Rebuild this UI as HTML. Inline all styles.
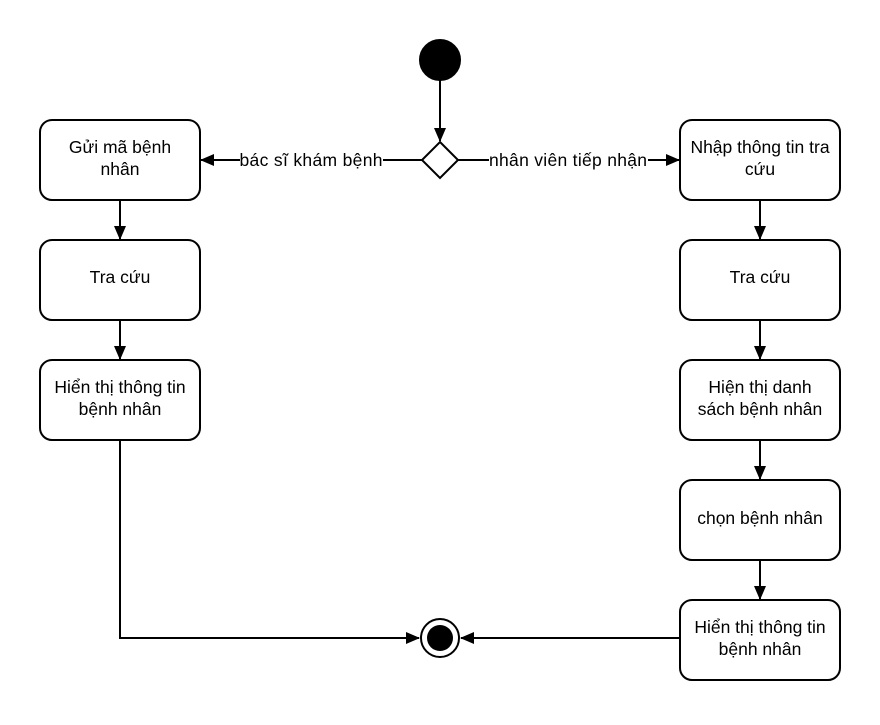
<!DOCTYPE html>
<html><head><style>body{margin:0;background:#fff}</style></head><body>
<svg width="880" height="720" xmlns="http://www.w3.org/2000/svg" font-family="Liberation Sans, sans-serif" font-size="17.5">
<defs><marker id="a" markerWidth="14" markerHeight="12" refX="13" refY="6" orient="auto" markerUnits="userSpaceOnUse"><path d="M0,0 L14,6 L0,12 Z" fill="#000"/></marker></defs>
<g stroke="#000" stroke-width="2" fill="none">
<circle cx="440" cy="60" r="20" fill="#000"/>
<line x1="440" y1="80" x2="440" y2="141" marker-end="url(#a)"/>
<path d="M440,142 L458,160 L440,178 L422,160 Z" fill="#fff"/>
<line x1="422" y1="160" x2="201" y2="160" marker-end="url(#a)"/>
<line x1="458" y1="160" x2="679" y2="160" marker-end="url(#a)"/>
<rect x="40" y="120" width="160" height="80" rx="12" fill="#fff"/>
<rect x="40" y="240" width="160" height="80" rx="12" fill="#fff"/>
<rect x="40" y="360" width="160" height="80" rx="12" fill="#fff"/>
<rect x="680" y="120" width="160" height="80" rx="12" fill="#fff"/>
<rect x="680" y="240" width="160" height="80" rx="12" fill="#fff"/>
<rect x="680" y="360" width="160" height="80" rx="12" fill="#fff"/>
<rect x="680" y="480" width="160" height="80" rx="12" fill="#fff"/>
<rect x="680" y="600" width="160" height="80" rx="12" fill="#fff"/>
<line x1="120" y1="200" x2="120" y2="239" marker-end="url(#a)"/>
<line x1="120" y1="320" x2="120" y2="359" marker-end="url(#a)"/>
<line x1="760" y1="200" x2="760" y2="239" marker-end="url(#a)"/>
<line x1="760" y1="320" x2="760" y2="359" marker-end="url(#a)"/>
<line x1="760" y1="440" x2="760" y2="479" marker-end="url(#a)"/>
<line x1="760" y1="560" x2="760" y2="599" marker-end="url(#a)"/>
<polyline points="120,440 120,638 419,638" marker-end="url(#a)"/>
<line x1="680" y1="638" x2="461" y2="638" marker-end="url(#a)"/>
<circle cx="440" cy="638" r="19" fill="#fff"/>
<circle cx="440" cy="638" r="13" fill="#000" stroke="none"/>
</g>
<rect x="240" y="150" width="143" height="20" fill="#fff"/>
<rect x="489" y="150" width="159" height="20" fill="#fff"/>
<g text-anchor="middle" fill="#000">
<text x="311" y="166" textLength="143">bác sĩ khám bệnh</text>
<text x="568" y="166" textLength="158">nhân viên tiếp nhận</text>
<text x="120" y="153">Gửi mã bệnh</text><text x="120" y="175">nhân</text>
<text x="120" y="283">Tra cứu</text>
<text x="120" y="393">Hiển thị thông tin</text><text x="120" y="415">bệnh nhân</text>
<text x="760" y="153">Nhập thông tin tra</text><text x="760" y="175">cứu</text>
<text x="760" y="283">Tra cứu</text>
<text x="760" y="393">Hiện thị danh</text><text x="760" y="415">sách bệnh nhân</text>
<text x="760" y="524">chọn bệnh nhân</text>
<text x="760" y="633">Hiển thị thông tin</text><text x="760" y="655">bệnh nhân</text>
</g>
</svg>
</body></html>
